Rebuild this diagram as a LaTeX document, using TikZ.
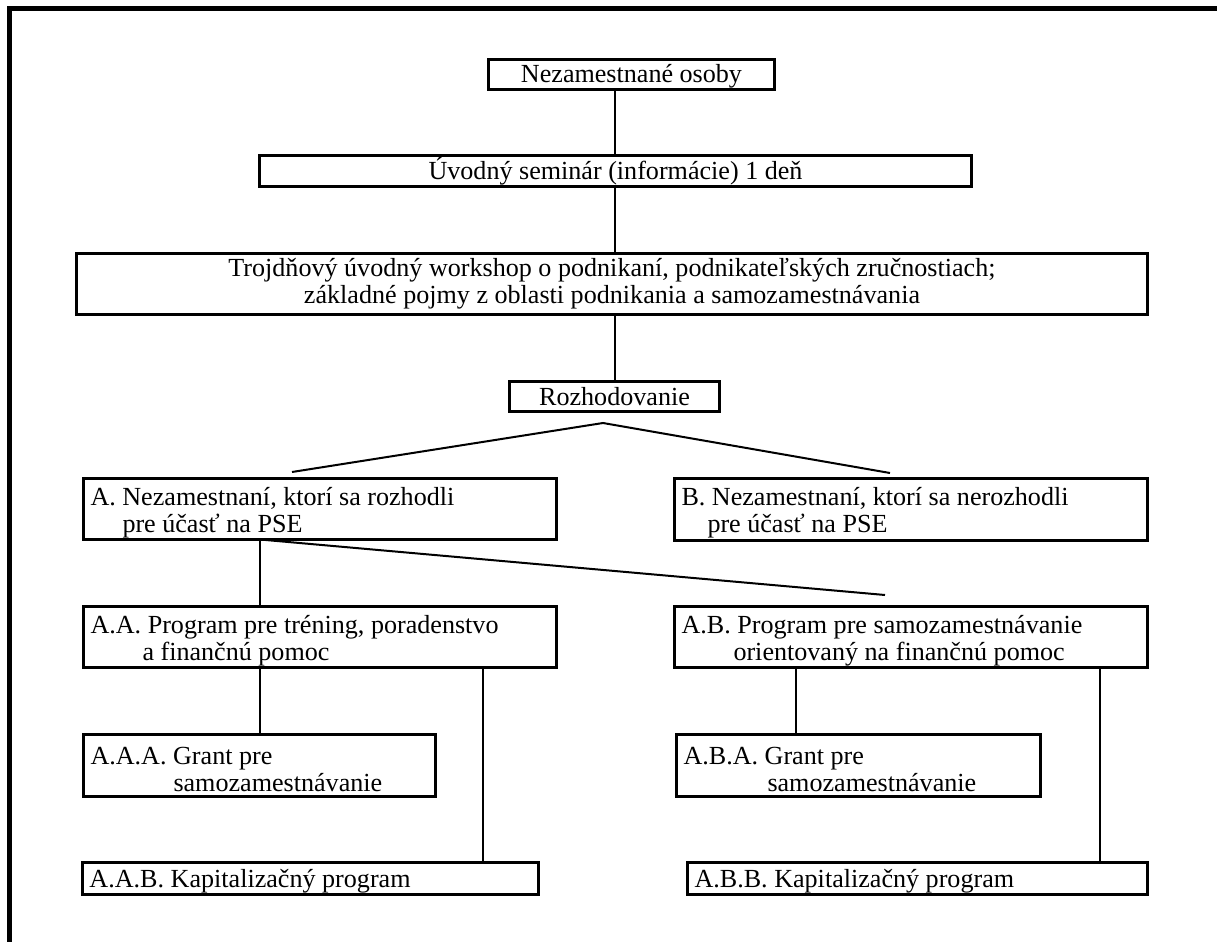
\documentclass[tikz,border=0pt]{standalone}
\usepackage{fontspec}
\setmainfont{Liberation Serif}
\usetikzlibrary{positioning,calc}
\tikzset{
  every node/.style={font=\fontsize{13.05}{13.6}\selectfont},
  % --- nodes
  box/.style     = {draw, line width=1.5pt, outer sep=0pt, inner xsep=3.5pt,
                    inner ysep=0pt, anchor=north west},
  cbox/.style    = {box, align=center},
  lbox/.style    = {box, align=flush left, text width=#1},
  oneline/.style = {text height=11.5pt, text depth=3pt},
  twoline/.style = {execute at begin node={\rule{0pt}{12.5pt}}},
  % --- edges
  e/.style       = {line width=1pt},
  frame/.style   = {line width=2.5pt},
}
\begin{document}
\begin{tikzpicture}[x=0.5pt,y=-0.5pt]
  \useasboundingbox (0,0) rectangle (1217,942);
  \draw[frame] (9.5,942) -- (9.5,8.5) -- (1217,8.5);

  % top of the chart
  \node[cbox, oneline, minimum width=143pt, minimum height=15pt] (n1) at (488.5,59.5)
    {Nezamestnané osoby};
  \node[cbox, oneline, minimum width=356pt, minimum height=15.5pt] (n2) at (259.5,155.5)
    {Úvodný seminár (informácie) 1 deň};
  \node[cbox, twoline, minimum width=535.5pt, minimum height=30.5pt] (n3) at (76.5,253.5)
    {Trojdňový úvodný workshop o podnikaní, podnikateľských zručnostiach;\\
     základné pojmy z oblasti podnikania a samozamestnávania};
  \node[cbox, oneline, minimum width=105pt, minimum height=15pt] (n4) at (509.5,381.5)
    {Rozhodovanie};

  % decision
  \node[lbox=229.5pt, twoline, minimum height=30.5pt] (nA) at (83.5,478.5)
    {A. Nezamestnaní, ktorí sa rozhodli\\\hspace*{16pt}pre účasť na PSE};
  \node[lbox=229.5pt, twoline, minimum height=31pt] (nB) at (674.5,478.5)
    {B. Nezamestnaní, ktorí sa nerozhodli\\\hspace*{13pt}pre účasť na PSE};

  % programs
  \node[lbox=229.5pt, twoline, minimum height=30.5pt] (nAA) at (83.5,606.5)
    {A.A. Program pre tréning, poradenstvo\\\hspace*{26pt}a finančnú pomoc};
  \node[lbox=229.5pt, twoline, minimum height=30.5pt] (nAB) at (674.5,606.5)
    {A.B. Program pre samozamestnávanie\\\hspace*{26pt}orientovaný na finančnú pomoc};
  \node[lbox=169pt, twoline, minimum height=31pt] (nAAA) at (83.5,734.5)
    {A.A.A. Grant pre\\\hspace*{41.5pt}samozamestnávanie};
  \node[lbox=175pt, twoline, minimum height=31pt] (nABA) at (676.5,734.5)
    {A.B.A. Grant pre\\\hspace*{42pt}samozamestnávanie};
  \node[lbox=221pt, oneline, minimum height=16pt] (nAAB) at (82.5,862.5)
    {A.A.B. Kapitalizačný program};
  \node[lbox=223pt, oneline, minimum height=16pt] (nABB) at (687.5,862.5)
    {A.B.B. Kapitalizačný program};

  % connectors
  \coordinate (cMid) at (615,0);
  \draw[e] (cMid |- n1.south) -- (cMid |- n2.north);
  \draw[e] (cMid |- n2.south) -- (cMid |- n3.north);
  \draw[e] (cMid |- n3.south) -- (cMid |- n4.north);
  \coordinate (fork) at (603,423);
  \coordinate (toA)  at (292,472);
  \coordinate (toB)  at (890,473);
  \draw[e] (toA) -- (fork) -- (toB);

  \coordinate (cA)   at (260,0);
  \coordinate (toAB) at (885,595);
  \draw[e] (cA |- nA.south) -- (cA |- nAA.north);
  \draw[e] (cA |- nA.south) -- (toAB);

  \coordinate (cAB)  at (483,0);
  \draw[e] (cA |- nAA.south)  -- (cA |- nAAA.north);
  \draw[e] (cAB |- nAA.south) -- (cAB |- nAAB.north);

  \coordinate (cBA)  at (796,0);
  \coordinate (cBB)  at (1100,0);
  \draw[e] (cBA |- nAB.south) -- (cBA |- nABA.north);
  \draw[e] (cBB |- nAB.south) -- (cBB |- nABB.north);
\end{tikzpicture}
\end{document}
